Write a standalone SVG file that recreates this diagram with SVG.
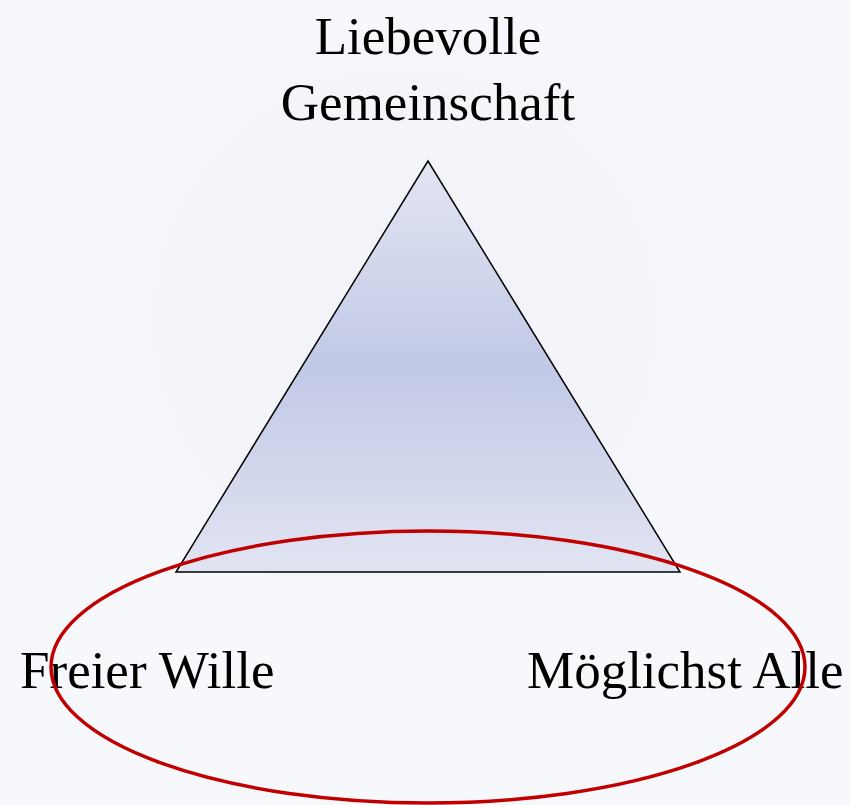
<svg xmlns="http://www.w3.org/2000/svg" width="850" height="805" viewBox="0 0 850 805">
  <defs>
    <linearGradient id="triFill" x1="0" y1="161" x2="0" y2="572" gradientUnits="userSpaceOnUse">
      <stop offset="0" stop-color="#e2e5f2"/>
      <stop offset="0.5" stop-color="#c2c9e6"/>
      <stop offset="1" stop-color="#e1e4f2"/>
    </linearGradient>
    <radialGradient id="glow" cx="405" cy="320" r="310" gradientUnits="userSpaceOnUse">
      <stop offset="0" stop-color="#f2f3f9"/>
      <stop offset="0.9" stop-color="#f5f6fa"/>
      <stop offset="1" stop-color="#f7f8fb" stop-opacity="0"/>
    </radialGradient>
    <style>
      .lbl { font-family: "Liberation Serif", "DejaVu Serif", serif; font-size: 53px; fill: #000; }
    </style>
  </defs>
  <rect width="850" height="805" fill="#f7f8fb"/>
  <circle cx="405" cy="320" r="310" fill="url(#glow)"/>
  <g id="triangle">
    <polygon points="428,161 176,572 680,572" fill="url(#triFill)" stroke="#000" stroke-width="1.5" stroke-linejoin="miter"/>
  </g>
  <g id="node-top">
    <text class="lbl" x="428" y="54" text-anchor="middle">Liebevolle</text>
    <text class="lbl" x="428" y="120" text-anchor="middle">Gemeinschaft</text>
  </g>
  <g id="node-left">
    <text class="lbl" x="20" y="688">Freier Wille</text>
  </g>
  <g id="node-right">
    <text class="lbl" x="527" y="688">Möglichst Alle</text>
  </g>
  <g id="connectors">
    <ellipse cx="428" cy="667" rx="377" ry="136" fill="none" stroke="#c00000" stroke-width="3.5"/>
  </g>
</svg>
